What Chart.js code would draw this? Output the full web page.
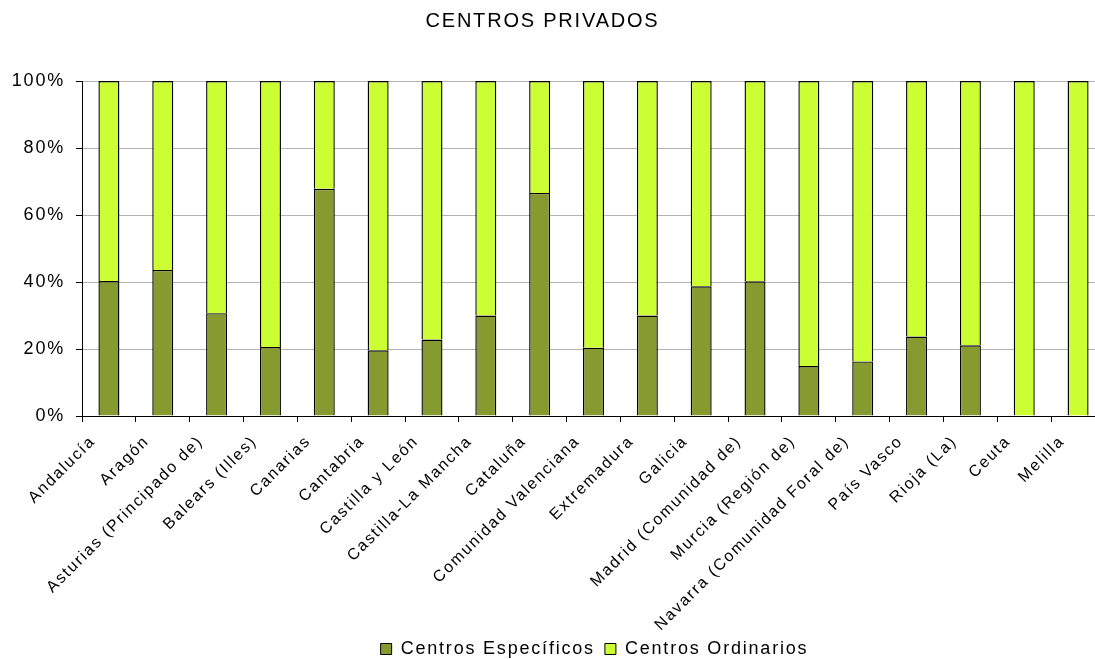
<!DOCTYPE html>
<html><head><meta charset="utf-8">
<script src="https://cdn.jsdelivr.net/npm/chart.js@4"></script>
<style>html,body{margin:0;padding:0;background:#fff;overflow:hidden}#w{width:1105px;height:659px}</style>
</head><body><div id="w"><canvas id="c"></canvas></div>
<script>
const categories = ["Andalucía","Aragón","Asturias (Principado de)","Balears (Illes)","Canarias","Cantabria","Castilla y León","Castilla-La Mancha","Cataluña","Comunidad Valenciana","Extremadura","Galicia","Madrid (Comunidad de)","Murcia (Región de)","Navarra (Comunidad Foral de)","País Vasco","Rioja (La)","Ceuta","Melilla"];
const especificos = [40.3,43.6,30.7,20.6,67.8,19.6,22.8,30.0,66.6,20.4,30.0,38.7,40.2,14.9,16.3,23.7,21.1,0,0];
const ordinarios  = [59.7,56.4,69.3,79.4,32.2,80.4,77.2,70.0,33.4,79.6,70.0,61.3,59.8,85.1,83.7,76.3,78.9,100,100];
const yTicks = [0,20,40,60,80,100];

Chart.defaults.font.family = "'Liberation Sans', Arial, sans-serif";
Chart.defaults.color = "#000";
const LS = '1.8px';
const helper = {
  id: 'helper',
  beforeUpdate(c){ c.ctx.letterSpacing = LS; },
  beforeLayout(c){ c.ctx.letterSpacing = LS; },
  afterLayout(c){
    if (c.legend) { c.legend.left += 42; c.legend.right += 42; }
    if (c.titleBlock) { c.titleBlock.left -= 10; c.titleBlock.right -= 10; }
  },
  beforeDraw(c){ c.ctx.letterSpacing = LS; }
};
new Chart(document.getElementById('c'), {
  type: 'bar',
  data: {
    labels: categories,
    datasets: [
      {label: 'Centros Específicos', data: especificos, backgroundColor: '#879a2f', borderColor: '#000', borderWidth: 1.4, barPercentage: 0.39, categoryPercentage: 1},
      {label: 'Centros Ordinarios', data: ordinarios, backgroundColor: '#ccff33', borderColor: '#000', borderWidth: 1.4, barPercentage: 0.39, categoryPercentage: 1}
    ]
  },
  plugins: [helper],
  options: {
    responsive: true, maintainAspectRatio: false, animation: false,
    layout: {padding: {top: 0, right: 0, left: 0, bottom: -9}},
    plugins: {
      title: {display: true, text: 'CENTROS PRIVADOS', font: {size: 20, weight: 'normal', lineHeight: 1.2}, padding: {top: 9, bottom: 48}},
      legend: {position: 'bottom', labels: {boxWidth: 11, boxHeight: 11, font: {size: 18}, padding: 10, generateLabels: (ch) => ch.data.datasets.map((d,i)=>({text:d.label, fillStyle:d.backgroundColor, strokeStyle:'#000', lineWidth:1, datasetIndex:i}))}},
      tooltip: {enabled: false}
    },
    scales: {
      x: {stacked: true, afterFit: s => { s.height = 214; },
          grid: {display: true, drawOnChartArea: false, offset: true, tickLength: 6, tickColor: '#000'}, border: {color: '#000'},
          ticks: {font: {size: 16}, minRotation: 45, maxRotation: 45, autoSkip: false, color: '#000', labelOffset: -16, padding: 10}},
      y: {stacked: true, min: 0, max: 100, afterFit: s => { s.width = 82; },
          afterBuildTicks: (s) => { s.ticks = yTicks.map(v => ({value: v})); },
          grid: {color: '#b4b4b4', tickLength: 6, tickColor: '#000'}, border: {color: '#000'},
          ticks: {font: {size: 18}, callback: v => v + '%', color: '#000', padding: 11}}
    }
  }
});
</script></body></html>
